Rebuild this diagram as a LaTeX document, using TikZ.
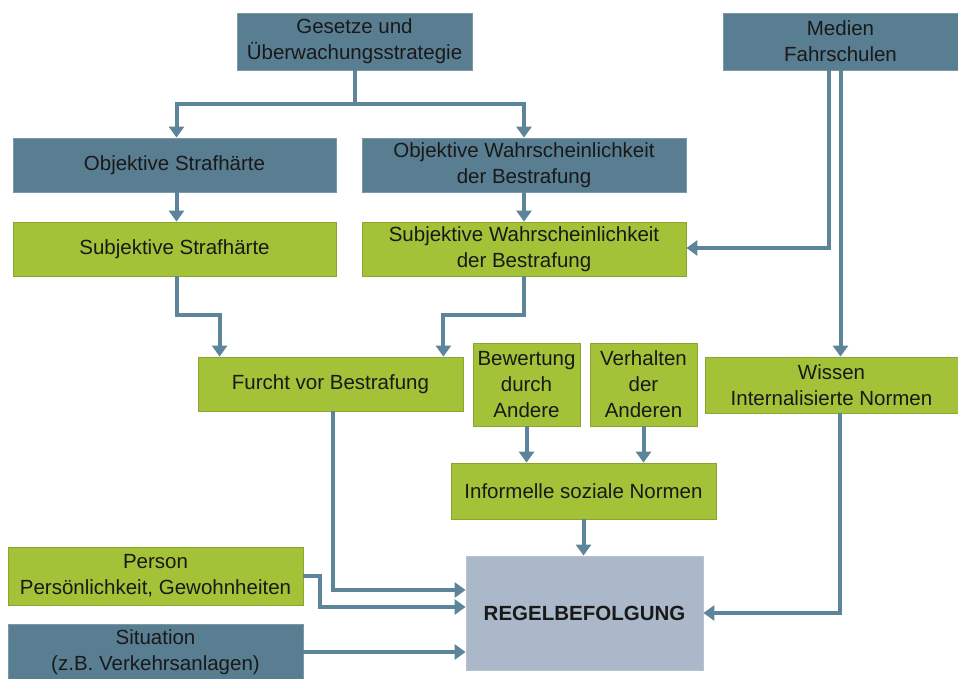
\documentclass[tikz,border=0pt]{standalone}
\usepackage{fontspec}
\setmainfont{Liberation Sans}
\usetikzlibrary{arrows.meta}
\definecolor{boxblue}{RGB}{89,126,145}
\definecolor{boxgreen}{RGB}{163,194,55}
\definecolor{boxgrey}{RGB}{171,184,202}
\definecolor{linkblue}{RGB}{92,133,154}
\begin{document}
\begin{tikzpicture}[x=1pt,y=-1pt,
  box/.style={align=center,inner sep=2pt,text=black!90,font=\fontsize{20.5}{26}\selectfont},
  bluebox/.style={box,fill=boxblue,draw=boxblue!80!white,line width=0.8pt},
  greenbox/.style={box,fill=boxgreen,draw=boxgreen!85!black,line width=0.8pt},
  link/.style={draw=linkblue,line width=4pt},
  arr/.style={link,-{Triangle[width=15pt,length=11pt]}}]
\useasboundingbox (0,0) rectangle (958,679);
\node[bluebox,minimum width=235pt,minimum height=57pt] (gesetze) at (354.5,41.5) {Gesetze und\\Überwachungsstrategie};
\node[bluebox,minimum width=235pt,minimum height=57pt] (medien) at (840.5,41.5) {Medien\\Fahrschulen};
\node[bluebox,minimum width=323pt,minimum height=54pt] (objstraf) at (174.5,165) {Objektive Strafhärte};
\node[bluebox,minimum width=324pt,minimum height=54pt] (objwahr) at (524,165) {Objektive Wahrscheinlichkeit\\der Bestrafung};
\node[greenbox,minimum width=323pt,minimum height=54pt] (subjstraf) at (174.5,249) {Subjektive Strafhärte};
\node[greenbox,minimum width=324pt,minimum height=54pt] (subjwahr) at (524,249) {Subjektive Wahrscheinlichkeit\\der Bestrafung};
\node[greenbox,minimum width=265pt,minimum height=54pt] (furcht) at (330.5,384) {Furcht vor Bestrafung};
\node[greenbox,minimum width=107pt,minimum height=83pt] (bewertung) at (526.5,384.5) {Bewertung\\durch\\Andere};
\node[greenbox,minimum width=107pt,minimum height=83pt] (verhalten) at (643.5,384.5) {Verhalten\\der\\Anderen};
\node[greenbox,minimum width=253pt,minimum height=56pt] (wissen) at (831.5,385) {Wissen\\Internalisierte Normen};
\node[greenbox,minimum width=265pt,minimum height=56pt] (informell) at (583.5,491) {Informelle soziale Normen};
\node[greenbox,minimum width=295pt,minimum height=58pt] (person) at (155.5,576) {Person\\Persönlichkeit, Gewohnheiten};
\node[bluebox,minimum width=295pt,minimum height=56pt] (situation) at (155.5,652) {Situation\\(z.B. Verkehrsanlagen)};
\node[box,fill=boxgrey,draw=boxgrey!85!white,line width=0.8pt,minimum width=237pt,minimum height=114pt,font=\fontsize{20.5}{26}\selectfont\bfseries] (regel) at (584.5,613) {REGELBEFOLGUNG};
\coordinate (split) at (354.5,104);
\draw[link] (gesetze.south) -- (split);
\draw[arr] (split) -| ([xshift=2pt]objstraf.north);
\draw[arr] (split) -| (objwahr.north);
\draw[arr] ([xshift=2pt]objstraf.south) -- ([xshift=2pt]subjstraf.north);
\draw[arr] (objwahr.south) -- (subjwahr.north);
\draw[arr] ([xshift=-12pt]medien.south) |- ([yshift=1pt]subjwahr.east);
\draw[arr] (medien.south) -- (medien.south |- wissen.north);
\draw[arr] ([xshift=2pt]subjstraf.south) -- ++(0,39) -| ([xshift=22pt]furcht.north west);
\draw[arr] (subjwahr.south) -- ++(0,39) -| ([xshift=-20pt]furcht.north east);
\draw[arr] ([xshift=2pt]furcht.south) |- ([yshift=23pt]regel.west);
\draw[arr] (person.east) -- ++(17,0) |- ([yshift=6pt]regel.west);
\draw[arr] (situation.east) -- (regel.west |- situation.east);
\draw[arr] (bewertung.south) -- (bewertung.south |- informell.north);
\draw[arr] (verhalten.south) -- (verhalten.south |- informell.north);
\draw[arr] (informell.south) -- (informell.south |- regel.north);
\draw[arr] ([xshift=8.5pt]wissen.south) |- (regel.east);
\end{tikzpicture}
\end{document}
